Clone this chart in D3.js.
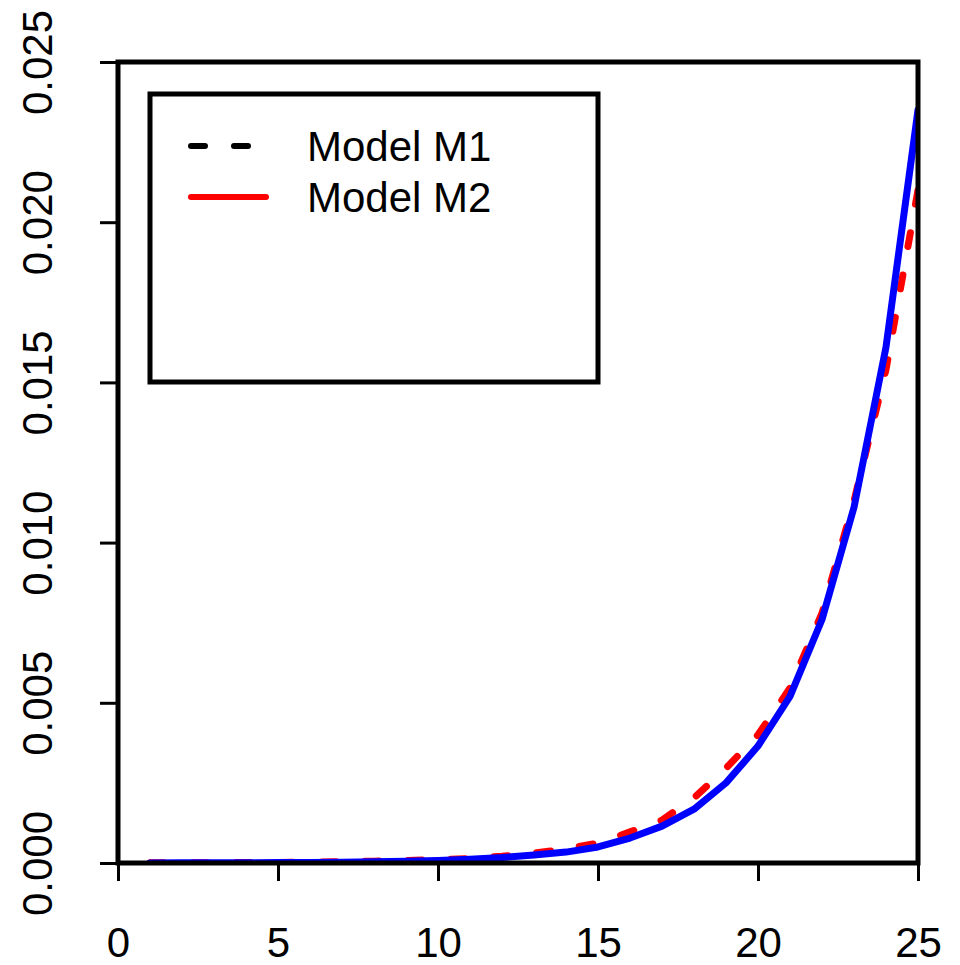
<!DOCTYPE html>
<html>
<head>
<meta charset="utf-8">
<script src="https://cdn.jsdelivr.net/npm/d3@7"></script>
<style>
  html, body { margin: 0; padding: 0; background: #fff; }
  svg { display: block; }
  text { font-family: "Liberation Sans", Arial, sans-serif; fill: #000; }
</style>
</head>
<body>
<svg id="chart" width="960" height="965"></svg>
<script>
// Time index
const xs = d3.range(1, 26);
// Model M2 fitted values (red dashed)
const modelM2 = [0.000004, 0.000006, 0.000009, 0.000013, 0.000019, 0.000027, 0.000039,
  0.000057, 0.000080, 0.00010, 0.00014, 0.00021, 0.00031, 0.00044, 0.00062, 0.00097,
  0.00134, 0.00203, 0.00296, 0.00400, 0.00546, 0.00780, 0.01130, 0.01540, 0.02100];
// Reference curve (blue solid)
const reference = [0.000003, 0.000004, 0.000006, 0.000008, 0.000012, 0.000018, 0.000026,
  0.000038, 0.000055, 0.00008, 0.00012, 0.00017, 0.00025, 0.00034, 0.00050, 0.00078,
  0.00115, 0.00168, 0.00250, 0.00365, 0.00520, 0.00760, 0.01110, 0.01610, 0.02350];
const xTicks = [0, 5, 10, 15, 20, 25];
const yTicks = [0, 0.005, 0.010, 0.015, 0.020, 0.025];
const legendLabels = ["Model M1", "Model M2"];

const svg = d3.select("#chart");
const plotL = 118, plotR = 918, plotT = 62, plotB = 863;

const x = d3.scaleLinear().domain([0, 25]).range([plotL, plotR]);
const y = d3.scaleLinear().domain([0, 0.025]).range([plotB, plotT]);

svg.append("defs").append("clipPath").attr("id", "plotclip")
  .append("rect").attr("x", plotL).attr("y", plotT)
  .attr("width", plotR - plotL).attr("height", plotB - plotT);

const line = d3.line().x((d, i) => x(xs[i])).y(d => y(d));
const g = svg.append("g").attr("clip-path", "url(#plotclip)");

g.append("path").datum(modelM2)
  .attr("d", line).attr("fill", "none")
  .attr("stroke", "#ff0000").attr("stroke-width", 7)
  .attr("stroke-dasharray", "14 29").attr("stroke-linecap", "round")
  .attr("stroke-linejoin", "round");

g.append("path").datum(reference)
  .attr("d", line).attr("fill", "none")
  .attr("stroke", "#0000ff").attr("stroke-width", 7)
  .attr("stroke-linecap", "round").attr("stroke-linejoin", "round");

// Plot frame
svg.append("rect").attr("x", plotL).attr("y", plotT)
  .attr("width", plotR - plotL).attr("height", plotB - plotT)
  .attr("fill", "none").attr("stroke", "#000").attr("stroke-width", 5);

// Bottom axis
const xAxis = svg.append("g").attr("transform", `translate(0,${plotB})`)
  .call(d3.axisBottom(x).tickValues(xTicks).tickSize(18).tickFormat(d3.format("d")));
xAxis.select(".domain").remove();
xAxis.selectAll(".tick line").attr("stroke", "#000").attr("stroke-width", 3);
xAxis.selectAll(".tick text").attr("font-size", 42).attr("y", 0).attr("dy", 0)
  .attr("transform", "translate(0,94)")
  .style("font-family", '"Liberation Sans", Arial, sans-serif');

// Left axis
const yAxis = svg.append("g").attr("transform", `translate(${plotL},0)`)
  .call(d3.axisLeft(y).tickValues(yTicks).tickSize(18).tickFormat(d3.format(".3f")));
yAxis.select(".domain").remove();
yAxis.selectAll(".tick line").attr("stroke", "#000").attr("stroke-width", 3);
yAxis.selectAll(".tick text").attr("font-size", 42)
  .attr("x", 0).attr("dy", 0)
  .attr("text-anchor", "middle")
  .attr("transform", `translate(${52 - plotL},0) rotate(-90)`)
  .style("font-family", '"Liberation Sans", Arial, sans-serif');

// Legend
const lg = svg.append("g");
lg.append("rect").attr("x", 150).attr("y", 94).attr("width", 448).attr("height", 288)
  .attr("fill", "#fff").attr("stroke", "#000").attr("stroke-width", 5);
const legendStyles = [
  { color: "#000000", dash: "14 29", ly: 146 },
  { color: "#ff0000", dash: null, ly: 197 }
];
legendLabels.forEach((lab, i) => {
  const s = legendStyles[i];
  lg.append("line").attr("x1", 191).attr("x2", 266)
    .attr("y1", s.ly).attr("y2", s.ly)
    .attr("stroke", s.color).attr("stroke-width", 6)
    .attr("stroke-linecap", "round")
    .attr("stroke-dasharray", s.dash);
  lg.append("text").attr("x", 307).attr("y", s.ly + 15)
    .attr("font-size", 42).text(lab);
});
</script>
</body>
</html>
